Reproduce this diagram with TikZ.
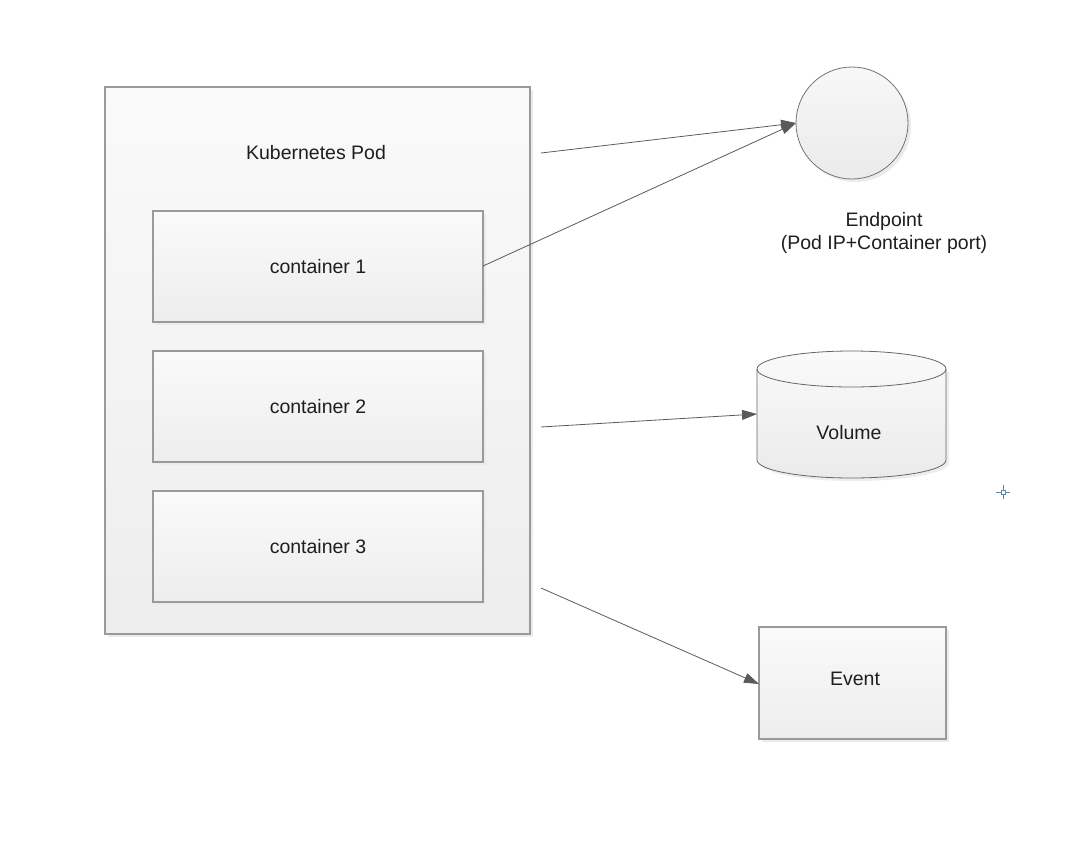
\documentclass[tikz,border=0pt]{standalone}
\usepackage{fontspec}
\setmainfont{Liberation Sans}
\usetikzlibrary{arrows.meta,shapes.geometric}
\definecolor{edgegrey}{HTML}{9A9A9A}
\definecolor{linegrey}{HTML}{5A5A5A}
\definecolor{txt}{HTML}{1E1E1E}
\definecolor{cross}{HTML}{5F87A8}
\tikzset{
  shade box/.style={draw=edgegrey, line width=1.2pt, top color=white!98!black, bottom color=white!93!black},
  boxshadow/.style={fill=black!8, draw=none},
  lbl/.style={font=\fontsize{19.5}{23}\selectfont, text=txt, align=center},
  conn/.style={draw=linegrey, line width=0.8pt, -{Triangle[length=15pt,width=10pt]}},
}
\begin{document}
\begin{tikzpicture}[x=1pt,y=-1pt]
\useasboundingbox (0,0) rectangle (1070,844);
% shadows
\fill[boxshadow] (108,90) rectangle (533,637);
% pod
\path[shade box] (105,87) rectangle (530,634);
\node[lbl] (podlbl) at (316,153) {Kubernetes Pod};
\coordinate (podA) at (541,153);
\coordinate (podB) at (541,427);
\coordinate (podC) at (541,588);
% containers
\foreach \i/\y in {1/211,2/351,3/491}{
  \fill[boxshadow] (156,\y+3) rectangle (486,\y+114);
  \path[shade box] (153,\y) rectangle (483,\y+111);
  \node[lbl] (c\i) at (318,\y+56) {container \i};
}
\coordinate (c1e) at (483,266);
% endpoint
\fill[black!8] (855,126) circle (56);
\path[draw=black!55, line width=0.8pt, top color=white!97!black, bottom color=white!92!black] (852,123) circle (56);
\coordinate (ep) at (796,123);
\node[lbl] (eplbl) at (884,233) {Endpoint\\(Pod IP+Container port)};
% volume
\fill[black!7] (760,372) -- (760,463) arc[start angle=180,end angle=0,x radius=94.5,y radius=18] -- (949,372) -- cycle;
\path[draw=black!60, line width=0.8pt, top color=white!98!black, bottom color=white!92!black]
  (757,369) -- (757,460) arc[start angle=180,end angle=0,x radius=94.5,y radius=18] -- (946,369)
  arc[start angle=0,end angle=-180,x radius=94.5,y radius=18] -- cycle;
\draw[black!60, line width=0.8pt] (757,369) arc[start angle=180,end angle=0,x radius=94.5,y radius=18];
\node[lbl] (vol) at (849,433) {Volume};
\coordinate (volin) at (757,414);
% event
\fill[boxshadow] (762,630) rectangle (949,742);
\path[shade box] (759,627) rectangle (946,739);
\node[lbl] (ev) at (855,679) {Event};
\coordinate (evin) at (759,684);
% connectors
\draw[conn] (podA) -- (ep);
\draw[conn] (c1e) -- (ep);
\draw[conn] (podB) -- (volin);
\draw[conn] (podC) -- (evin);
% small cursor mark
\coordinate (cm) at (1003,492);
\draw[cross, line width=0.7pt] (996,492) -- (1001,492) (1005,492) -- (1010,492) (1003,485) -- (1003,490) (1003,494) -- (1003,499);
\draw[cross, line width=0.7pt] (1001,490) rectangle (1005,494);
\end{tikzpicture}
\end{document}
